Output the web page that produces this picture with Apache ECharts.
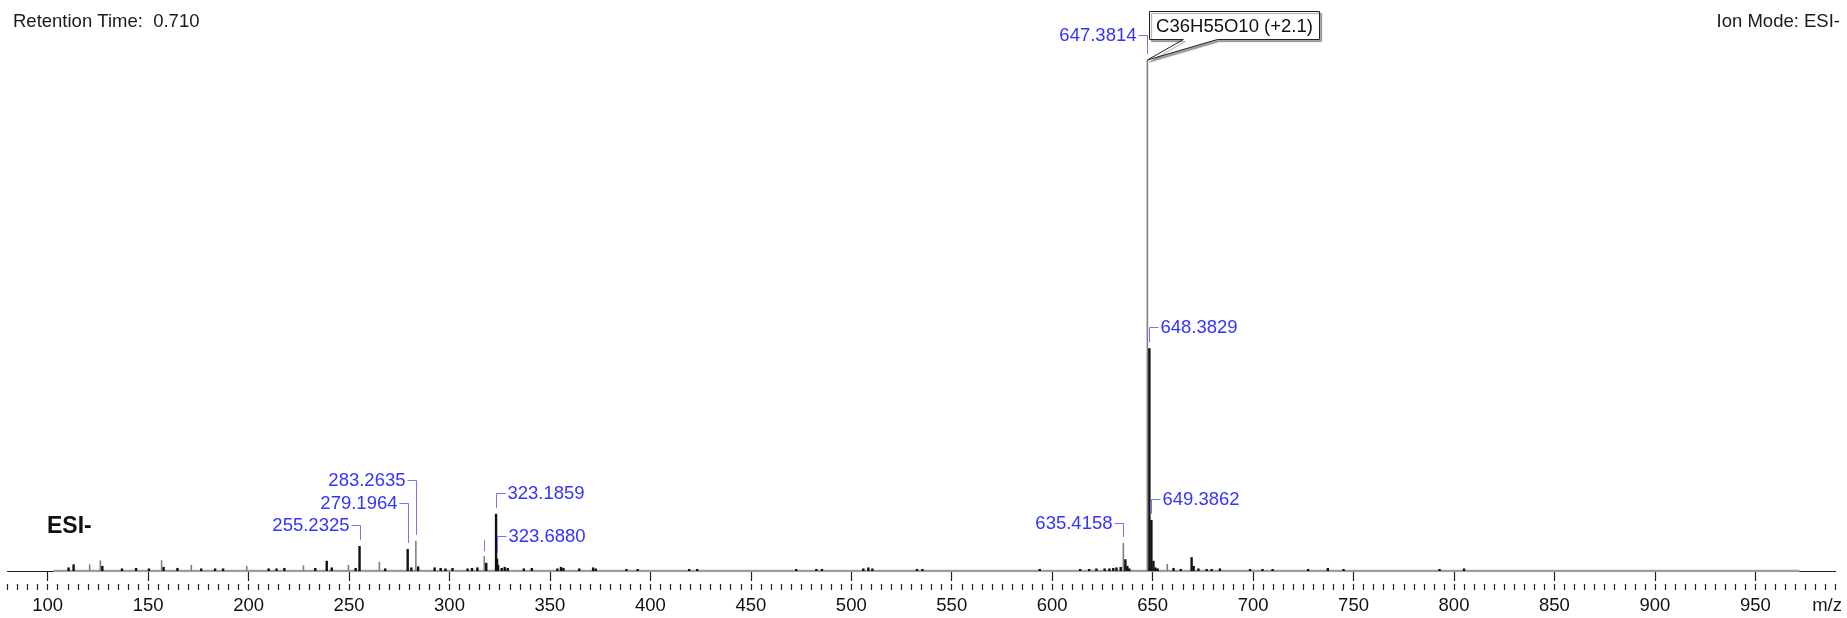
<!DOCTYPE html>
<html><head><meta charset="utf-8">
<script src="https://cdn.jsdelivr.net/npm/echarts@6/dist/echarts.min.js"></script>
<style>html,body{margin:0;padding:0;background:#fff}#c{width:1847px;height:618px}</style>
</head><body><div id="c"></div>
<script>
// ---------- data ----------
const tickLabels = [100,150,200,250,300,350,400,450,500,550,600,650,700,750,800,850,900,950];
const minorTickStep = 5;
const baselineMz = [102.8, 971.9];

const blackMz = [110.4,112.9,127.2,137.0,144.0,150.4,157.7,164.6,176.4,183.3,187.3,210.0,213.9,217.8,233.2,238.9,241.4,253.3,255.2325,268.0,279.1964,281.0,284.4,292.6,295.6,298.0,301.5,309.0,311.2,313.9,318.3,323.1859,323.688,324.19,326.0,327.5,329.0,337.0,341.0,353.7,355.5,356.7,364.6,371.5,372.8,388.1,393.7,419.3,423.3,472.6,482.6,485.4,506.0,508.5,510.5,532.7,535.4,593.8,613.9,618.4,622.0,626.1,628.5,630.4,632.0,634.1,636.42,637.42,638.4,648.3829,649.3862,650.39,651.4,652.5,660.4,664.0,669.4,670.4,672.8,676.9,679.4,683.5,698.5,704.7,709.7,727.4,737.2,745.0,792.8,805.0];
const blackInt = [0.7,1.3,1.0,0.5,0.6,0.5,0.8,0.6,0.5,0.5,0.5,0.5,0.5,0.6,0.6,2.0,0.7,0.6,4.9,0.5,4.3,0.7,0.9,0.7,0.6,0.5,0.6,0.5,0.6,0.7,1.6,11.2,2.4,1.2,0.6,0.8,0.6,0.5,0.6,0.5,0.8,0.6,0.5,0.7,0.5,0.4,0.4,0.4,0.4,0.4,0.4,0.4,0.5,0.7,0.5,0.4,0.4,0.4,0.4,0.4,0.5,0.5,0.5,0.6,0.7,0.8,2.3,1.0,0.5,43.6,10.0,2.0,0.7,0.5,0.6,0.4,2.7,1.0,0.5,0.4,0.4,0.5,0.4,0.4,0.4,0.4,0.6,0.4,0.4,0.5];

const grayMz = [120.9,126.2,156.7,171.5,199.1,227.3,249.7,265.1,283.2635,317.3,635.4158,647.3814,657.3];
const grayInt = [1.3,2.1,2.1,1.2,1.0,1.1,1.2,1.8,5.9,2.9,5.5,100,1.4];

const annotMz   = [647.3814,648.3829,649.3862,635.4158,255.2325,279.1964,283.2635,323.1859,323.688,317.3];
const annotText = ['647.3814','648.3829','649.3862','635.4158','255.2325','279.1964','283.2635','323.1859','323.6880',''];

const formulaText = 'C36H55O10 (+2.1)';
const formulaMz = 647.3814;
const titleLeft = 'Retention Time:  0.710';
const titleRight = 'Ion Mode: ESI-';
const modeLabel = 'ESI-';
const axisUnit = 'm/z';

// ---------- layout (styling only) ----------
const annotSide = ['left','right','right','left','left','left','left','right','right','none'];
const annotLift = [25,21,21,20,21,46,61,21,23,0];
const BLUE = '#3333ff', BLUE_LINE = '#7474f4';
const FONT = '"Liberation Sans", Arial, sans-serif';

const chart = echarts.init(document.getElementById('c'), null, {renderer:'canvas'});

function sticks(mz, inten, color, w, z) {
  return {
    type: 'custom', xAxisIndex: 0, yAxisIndex: 0, silent: true, z: z, clip: false,
    data: mz.map((m, i) => [m, inten[i]]),
    encode: {x: 0, y: 1},
    renderItem: function (params, api) {
      const p0 = api.coord([api.value(0), 0]);
      const p1 = api.coord([api.value(0), api.value(1)]);
      return {type: 'rect', shape: {x: p0[0] - w / 2, y: p1[1], width: w, height: p0[1] - p1[1]},
              style: {fill: color}};
    }
  };
}

const option = {
  animation: false,
  backgroundColor: '#fff',
  grid: {left: 7.5, right: 11.3, top: 60, bottom: 47, containLabel: false},
  xAxis: [
    {type: 'value', min: 80, max: 990, position: 'bottom', offset: 13,
     axisLine: {show: true, lineStyle: {color: '#222', width: 1.2}},
     axisTick: {show: true, length: 10, customValues: tickLabels, lineStyle: {color: '#222', width: 1.2}},
     axisLabel: {show: true, customValues: tickLabels, margin: 12, fontSize: 18.5, color: '#111', fontFamily: FONT},
     splitLine: {show: false}},
    {type: 'value', min: 80, max: 990, interval: minorTickStep, position: 'bottom', offset: 13,
     axisLine: {show: false},
     axisTick: {show: true, length: 6, lineStyle: {color: '#222', width: 1.2}},
     axisLabel: {show: false}, splitLine: {show: false}}
  ],
  yAxis: {type: 'value', min: 0, max: 100, show: false},
  series: [
    {type: 'line', xAxisIndex: 0, yAxisIndex: 0, data: baselineMz.map(m => [m, 0]), symbol: 'none',
     lineStyle: {color: '#9e9e9e', width: 2.5}, z: 1, silent: true},
    sticks(grayMz, grayInt, '#808080', 1.6, 2),
    sticks(blackMz, blackInt, '#111', 2.4, 3)
  ]
};
chart.setOption(option);

function intensityOf(m) {
  let i = blackMz.indexOf(m);
  if (i >= 0) return blackInt[i];
  i = grayMz.indexOf(m);
  return i >= 0 ? grayInt[i] : 0;
}
function px(m, v) { return chart.convertToPixel({xAxisIndex: 0, yAxisIndex: 0}, [m, v]); }

const g = [];
annotMz.forEach((m, i) => {
  const p = px(m, intensityOf(m));
  const x = Math.round(p[0]) + 0.5, top = p[1];
  const side = annotSide[i];
  if (side === 'none') {
    g.push({type: 'polyline', shape: {points: [[x, top - 5], [x, top - 16]]}, style: {stroke: BLUE_LINE, lineWidth: 1, fill: null}, z: 10});
    return;
  }
  const ly = Math.round(top - annotLift[i]) + 0.5;
  const bottom = top - 6;
  if (side === 'left') {
    g.push({type: 'polyline', shape: {points: [[x - 9, ly], [x, ly], [x, bottom]]}, style: {stroke: BLUE_LINE, lineWidth: 1, fill: null}, z: 10});
    g.push({type: 'text', x: x - 11, y: ly, style: {text: annotText[i], fill: BLUE, font: '18.5px ' + FONT, textAlign: 'right', textVerticalAlign: 'middle'}, z: 10});
  } else {
    g.push({type: 'polyline', shape: {points: [[x, bottom], [x, ly], [x + 9, ly]]}, style: {stroke: BLUE_LINE, lineWidth: 1, fill: null}, z: 10});
    g.push({type: 'text', x: x + 11, y: ly, style: {text: annotText[i], fill: BLUE, font: '18.5px ' + FONT, textAlign: 'left', textVerticalAlign: 'middle'}, z: 10});
  }
});

// formula callout
(function () {
  const t = px(formulaMz, intensityOf(formulaMz));
  const tx = t[0], ty = t[1];
  const L = Math.round(tx + 2) + 0.5, R = Math.round(tx + 172) + 0.5, T = Math.round(ty - 49) + 0.5, B = Math.round(ty - 21) + 0.5;
  g.push({type: 'polygon', shape: {points: [[L, T], [R, T], [R, B], [tx + 70, B], [tx, ty], [tx + 36, B], [L, B]]},
          style: {fill: '#fff', stroke: '#222', lineWidth: 1, shadowColor: 'rgba(0,0,0,0.35)', shadowOffsetX: 2, shadowOffsetY: 2, shadowBlur: 1}, z: 11});
  g.push({type: 'text', x: (L + R) / 2, y: (T + B) / 2 + 1, style: {text: formulaText, fill: '#111', font: '18.5px ' + FONT, textAlign: 'center', textVerticalAlign: 'middle'}, z: 12});
})();

g.push({type: 'text', left: 13, top: 12, style: {text: titleLeft, fill: '#1a1a1a', font: '18.5px ' + FONT}});
g.push({type: 'text', right: 7, top: 12, style: {text: titleRight, fill: '#1a1a1a', font: '18.5px ' + FONT}});
g.push({type: 'text', left: 47, top: 515, style: {text: modeLabel, fill: '#111', font: 'bold 23px ' + FONT}});
g.push({type: 'text', right: 5, top: 596, style: {text: axisUnit, fill: '#1a1a1a', font: '18.5px ' + FONT}});

chart.setOption({graphic: g});
</script>
</body></html>
